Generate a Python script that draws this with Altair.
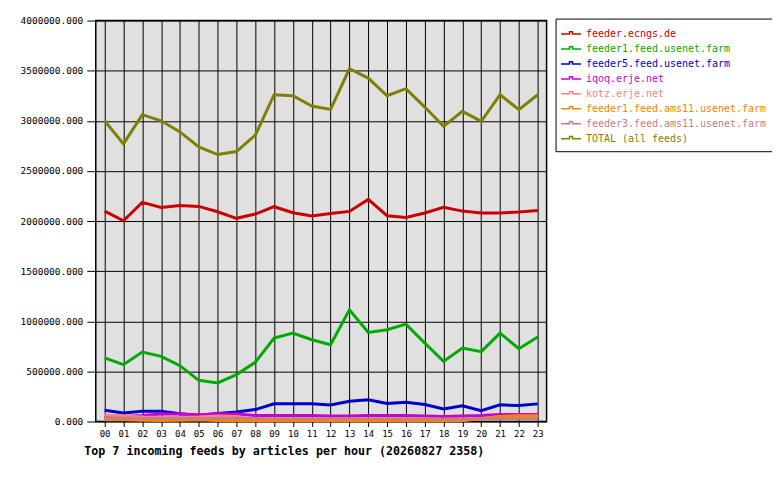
import pandas as pd
import altair as alt

# hours of the day (x axis)
hours = [f"{h:02d}" for h in range(24)]

feeds = [
    "feeder.ecngs.de",
    "feeder1.feed.usenet.farm",
    "feeder5.feed.usenet.farm",
    "iqoq.erje.net",
    "kotz.erje.net",
    "feeder1.feed.ams11.usenet.farm",
    "feeder3.feed.ams11.usenet.farm",
    "TOTAL (all feeds)",
]
feed_colors = ["#cc0000", "#00aa00", "#0000cc", "#cc00cc", "#ff8080", "#ff8000", "#c08080", "#808000"]

ecngs = [2099000, 2003000, 2186000, 2136000, 2156000, 2146000, 2093000, 2027000,
         2070000, 2143000, 2083000, 2050000, 2076000, 2096000, 2216000, 2053000,
         2036000, 2080000, 2136000, 2099000, 2080000, 2080000, 2090000, 2106000]
usenet1 = [634000, 567000, 693000, 650000, 557000, 411000, 385000, 468000,
           590000, 833000, 882000, 816000, 766000, 1114000, 889000, 915000,
           972000, 783000, 600000, 733000, 697000, 882000, 726000, 843000]
usenet5 = [112000, 86000, 102000, 102000, 77000, 63000, 80000, 96000,
           119000, 176000, 176000, 176000, 166000, 202000, 216000, 179000,
           192000, 169000, 126000, 156000, 109000, 166000, 159000, 176000]
iqoq = [45000, 50000, 60000, 75000, 75000, 65000, 78000, 75000,
        60000, 60000, 60000, 60000, 55000, 55000, 60000, 60000,
        60000, 55000, 50000, 55000, 60000, 70000, 70000, 70000]
kotz = [65000, 55000, 45000, 40000, 40000, 45000, 55000, 50000,
        20000, 12000, 15000, 20000, 20000, 20000, 20000, 20000,
        20000, 20000, 12000, 12000, 25000, 50000, 55000, 55000]
ams11_1 = [18000, 18000, 12000, 10000, 12000, 18000, 10000, 8000,
           8000, 8000, 8000, 8000, 8000, 8000, 8000, 8000,
           8000, 8000, 8000, 10000, 30000, 50000, 55000, 55000]
ams11_3 = [32000, 32000, 30000, 30000, 30000, 30000, 30000, 32000,
           30000, 28000, 28000, 28000, 28000, 28000, 28000, 28000,
           28000, 28000, 25000, 25000, 28000, 28000, 28000, 28000]
total = [3000000, 2770000, 3061000, 3000000, 2889000, 2739000, 2663000, 2693000,
         2856000, 3260000, 3250000, 3147000, 3114000, 3519000, 3426000, 3250000,
         3320000, 3137000, 2945000, 3094000, 2995000, 3260000, 3111000, 3260000]

y_ticks = [0, 500000, 1000000, 1500000, 2000000, 2500000, 3000000, 3500000, 4000000]

series = [ecngs, usenet1, usenet5, iqoq, kotz, ams11_1, ams11_3, total]
rows = []
for order, (name, values) in enumerate(zip(feeds, series)):
    for hour, value in zip(hours, values):
        rows.append({"hour": hour, "feed": name, "articles": value, "order": order})
data = pd.DataFrame(rows)

MONO = "DejaVu Sans Mono"

chart = (
    alt.Chart(data)
    .mark_line(strokeWidth=3, strokeJoin="miter")
    .encode(
        x=alt.X(
            "hour:O",
            sort=hours,
            scale=alt.Scale(type="point", padding=0.47),
            axis=alt.Axis(
                title="Top 7 incoming feeds by articles per hour (20260827 2358)",
                titleFont=MONO,
                titleFontSize=11.7,
                titleFontWeight="bold",
                titleColor="black",
                titleAlign="left",
                titleBaseline="alphabetic",
                titleX=-12,
                titleY=33,
                labelAngle=0,
                labelFont=MONO,
                labelFontSize=9,
                labelColor="black",
                labelPadding=3,
                tickSize=5,
                tickColor="black",
                domain=False,
                grid=True,
                gridColor="black",
                gridWidth=1,
                gridOpacity=1,
            ),
        ),
        y=alt.Y(
            "articles:Q",
            scale=alt.Scale(domain=[0, 4000000], nice=False),
            axis=alt.Axis(
                title=None,
                values=y_ticks,
                format=".3f",
                labelFont=MONO,
                labelFontSize=9.5,
                labelColor="black",
                labelPadding=4,
                tickSize=9,
                tickColor="black",
                domain=False,
                grid=True,
                gridColor="black",
                gridWidth=1,
                gridOpacity=1,
            ),
        ),
        color=alt.Color(
            "feed:N",
            scale=alt.Scale(domain=feeds, range=feed_colors),
            legend=alt.Legend(
                title=None,
                orient="none",
                legendX=461,
                legendY=-2,
                padding=7,
                rowPadding=1,
                fillColor="white",
                strokeColor="black",
                labelFont=MONO,
                labelFontSize=10,
                labelLimit=400,
                labelOffset=6.5,
                labelColor={"expr": "scale('color', datum.value)"},
                symbolType="M-1.33,0H-0.2V-0.3H0.2V0H1.33",
                symbolSize=225,
                symbolStrokeWidth=1.5,
                symbolFillColor="transparent",
            ),
        ),
        order="order:Q",
        detail="feed:N",
    )
    .properties(
        width=452,
        height=402,
        autosize=alt.AutoSizeParams(type="none"),
        padding={"left": 88, "top": 12, "right": 226, "bottom": 40},
        background="white",
    )
    .configure_view(fill="#e0e0e0", stroke="black", strokeWidth=1.5)
)

chart.save("out.html", embed_options={"renderer": "svg", "actions": False})
